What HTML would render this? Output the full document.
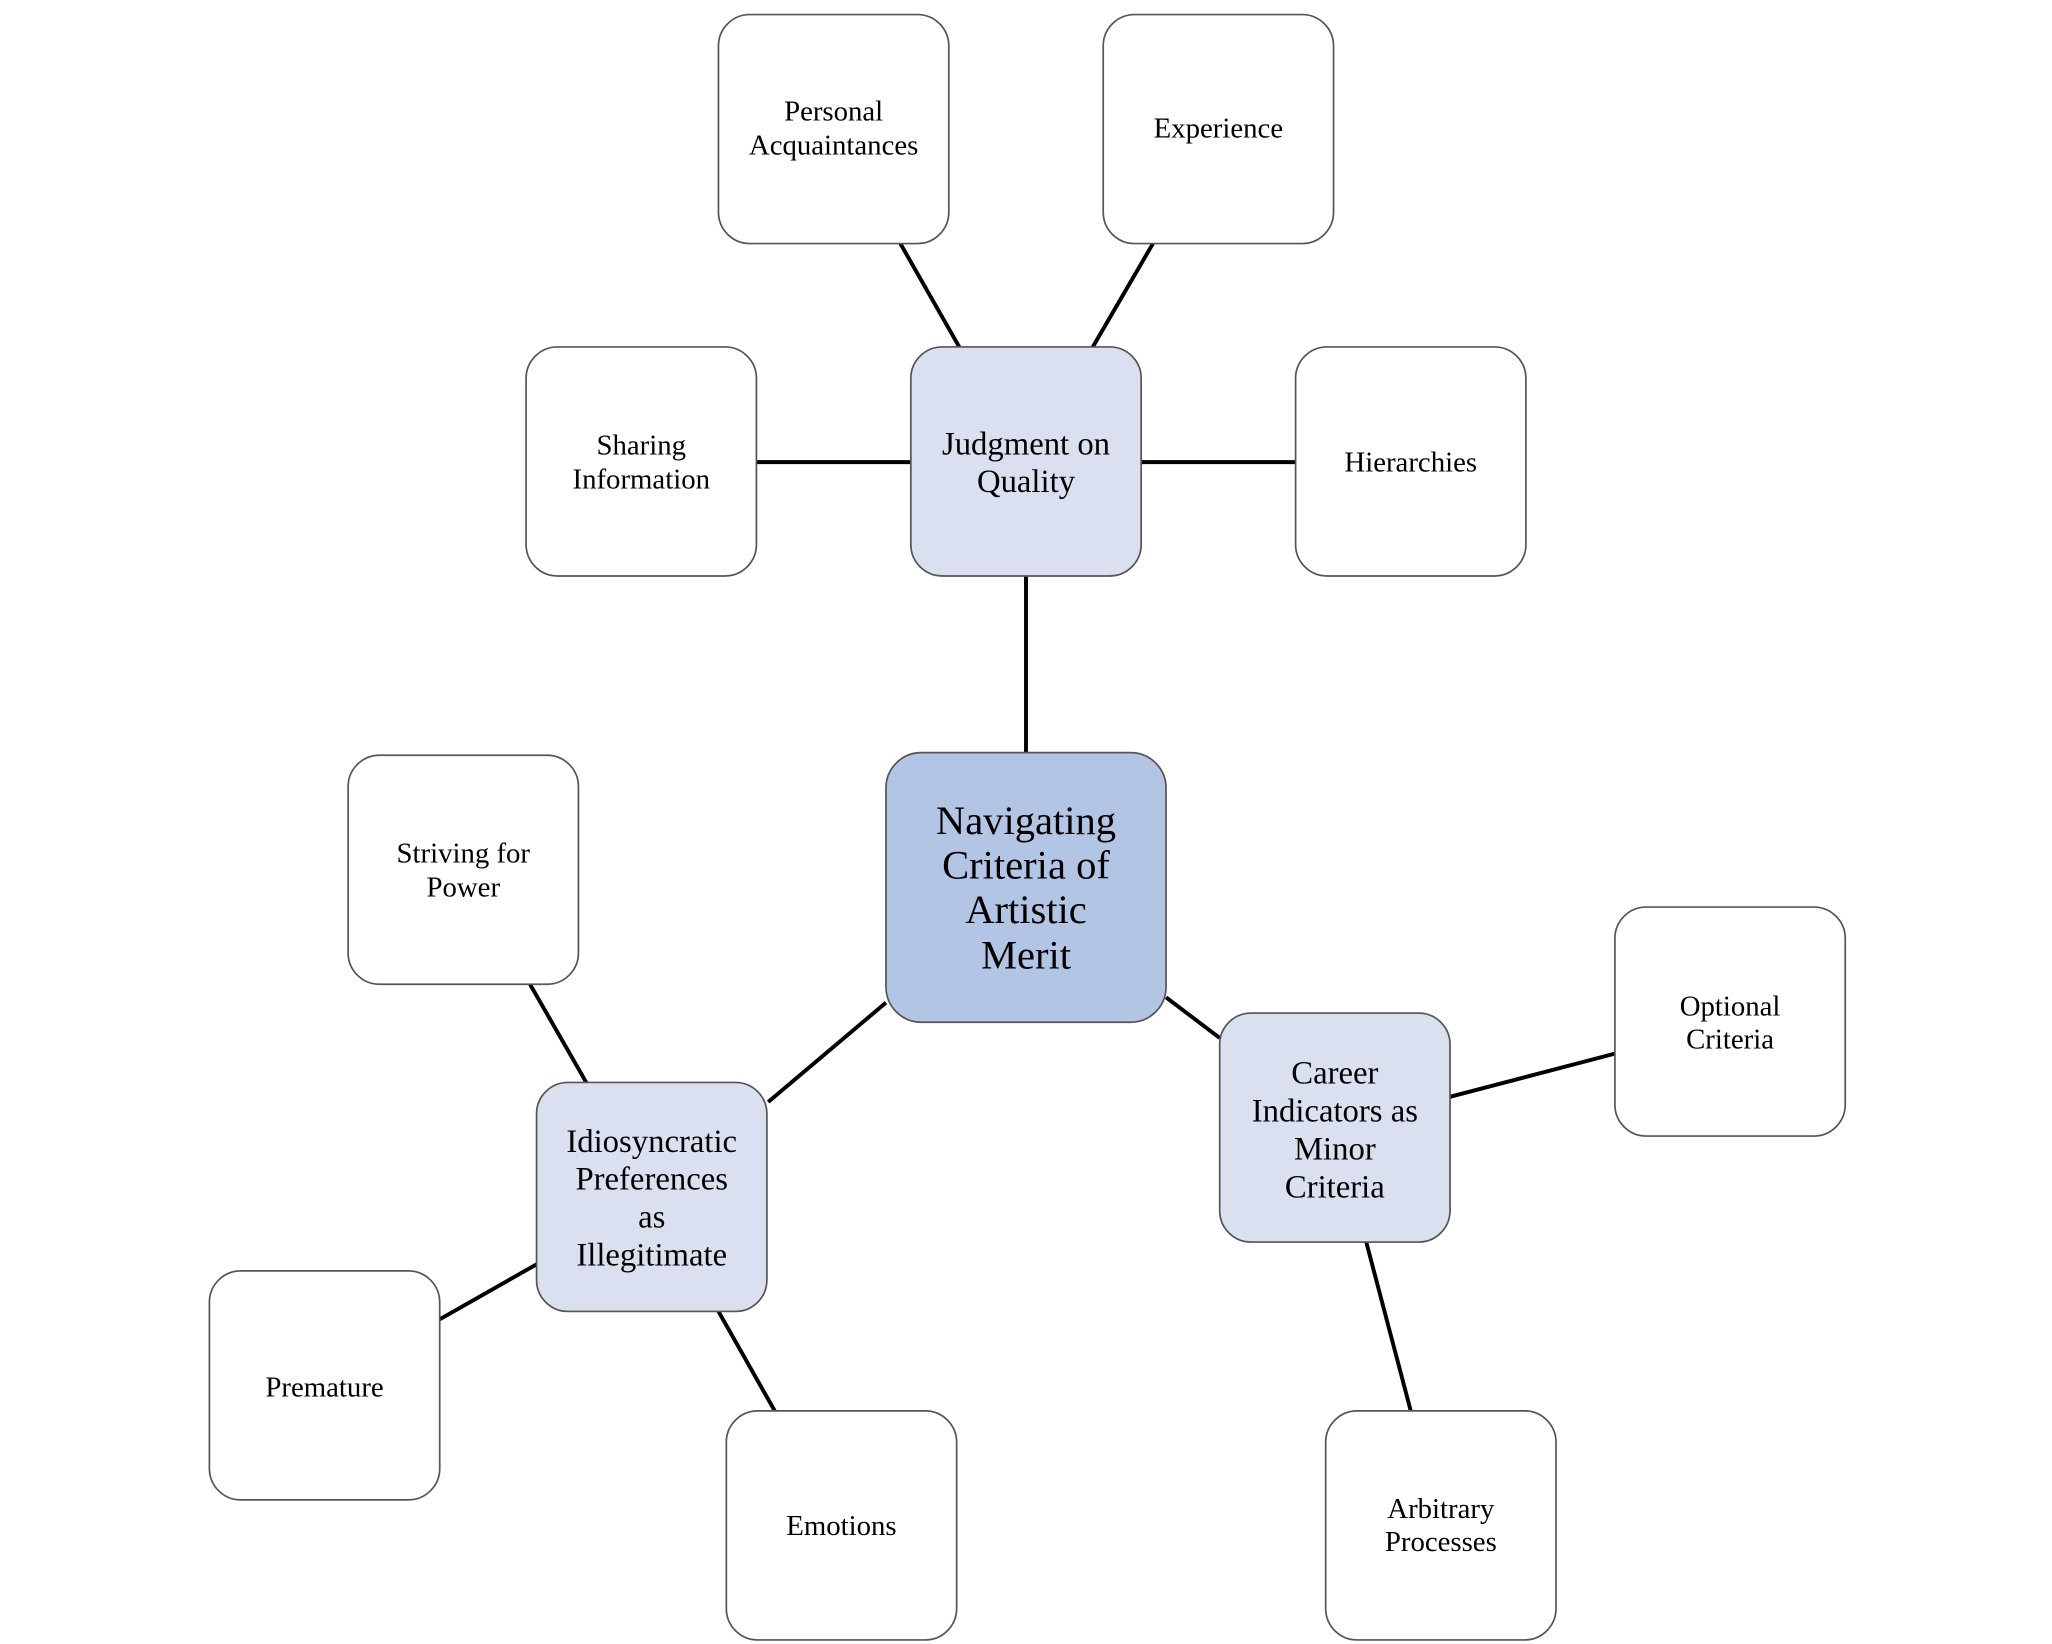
<!DOCTYPE html>
<html><head><meta charset="utf-8"><style>
html,body{margin:0;padding:0;background:#fff;}
svg{display:block;}
text{font-family:"Liberation Serif",serif;fill:#000;text-anchor:middle;}
</style></head><body>
<svg width="2052" height="1644" viewBox="0 0 1568 1256" xmlns="http://www.w3.org/2000/svg">
<g stroke="#000" stroke-width="3" fill="none">
<line x1="784" y1="440" x2="784" y2="575"/>
<line x1="688" y1="186" x2="733" y2="265"/>
<line x1="881" y1="186" x2="835" y2="265"/>
<line x1="578" y1="353" x2="696" y2="353"/>
<line x1="872" y1="353" x2="990" y2="353"/>
<line x1="677" y1="766" x2="587" y2="842"/>
<line x1="891" y1="762" x2="932" y2="793"/>
<line x1="405" y1="752" x2="448" y2="827"/>
<line x1="336" y1="1008" x2="410" y2="966"/>
<line x1="549" y1="1002" x2="592" y2="1078"/>
<line x1="1108" y1="838" x2="1234" y2="805"/>
<line x1="1044" y1="949" x2="1078" y2="1078"/>
</g>
<g stroke="#555" stroke-width="1.3">
<rect x="677" y="575" width="214" height="206" rx="27" fill="#b2c5e5"/>
<rect x="696" y="265" width="176" height="175" rx="24" fill="#dae0f0"/>
<rect x="410" y="827" width="176" height="175" rx="24" fill="#dae0f0"/>
<rect x="932" y="774" width="176" height="175" rx="24" fill="#dae0f0"/>
<rect x="549" y="11" width="176" height="175" rx="24" fill="#fff"/>
<rect x="843" y="11" width="176" height="175" rx="24" fill="#fff"/>
<rect x="402" y="265" width="176" height="175" rx="24" fill="#fff"/>
<rect x="990" y="265" width="176" height="175" rx="24" fill="#fff"/>
<rect x="266" y="577" width="176" height="175" rx="24" fill="#fff"/>
<rect x="160" y="971" width="176" height="175" rx="24" fill="#fff"/>
<rect x="555" y="1078" width="176" height="175" rx="24" fill="#fff"/>
<rect x="1234" y="693" width="176" height="175" rx="24" fill="#fff"/>
<rect x="1013" y="1078" width="176" height="175" rx="24" fill="#fff"/>
</g>
<g font-size="31">
<text x="784" y="637">Navigating</text>
<text x="784" y="671">Criteria of</text>
<text x="784" y="705">Artistic</text>
<text x="784" y="740">Merit</text>
</g>
<g font-size="25">
<text x="784" y="347">Judgment on</text>
<text x="784" y="376">Quality</text>
<text x="498" y="880">Idiosyncratic</text>
<text x="498" y="909">Preferences</text>
<text x="498" y="938">as</text>
<text x="498" y="967">Illegitimate</text>
<text x="1020" y="828">Career</text>
<text x="1020" y="857">Indicators as</text>
<text x="1020" y="886">Minor</text>
<text x="1020" y="915">Criteria</text>
</g>
<g font-size="22">
<text x="637" y="92">Personal</text>
<text x="637" y="118">Acquaintances</text>
<text x="931" y="105">Experience</text>
<text x="490" y="347">Sharing</text>
<text x="490" y="373">Information</text>
<text x="1078" y="360">Hierarchies</text>
<text x="354" y="659">Striving for</text>
<text x="354" y="685">Power</text>
<text x="248" y="1067">Premature</text>
<text x="643" y="1173">Emotions</text>
<text x="1322" y="776">Optional</text>
<text x="1322" y="801">Criteria</text>
<text x="1101" y="1160">Arbitrary</text>
<text x="1101" y="1185">Processes</text>
</g>
</svg>
</body></html>
